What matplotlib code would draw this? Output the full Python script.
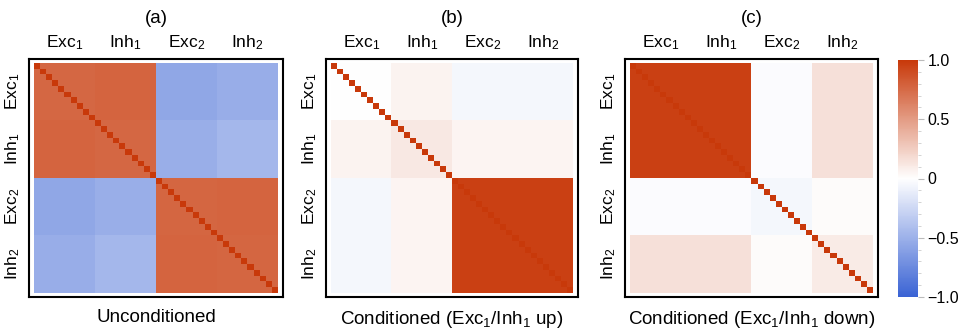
import numpy as np
import matplotlib
matplotlib.use("Agg")
import matplotlib.pyplot as plt
from matplotlib.colors import LinearSegmentedColormap
from matplotlib.ticker import FixedLocator, FixedFormatter

plt.rcParams['font.family'] = ['Liberation Sans', 'DejaVu Sans']
plt.rcParams['mathtext.fontset'] = 'custom'
plt.rcParams['mathtext.rm'] = 'Liberation Sans'
plt.rcParams['mathtext.it'] = 'Liberation Sans'

# ---- data ----
groups = [r'Exc$\mathregular{_1}$', r'Inh$\mathregular{_1}$',
          r'Exc$\mathregular{_2}$', r'Inh$\mathregular{_2}$']
n_per_group = 10
panel_titles = ['(a)', '(b)', '(c)']
panel_xlabels = ['Unconditioned',
                 r'Conditioned (Exc$\mathregular{_1}$/Inh$\mathregular{_1}$ up)',
                 r'Conditioned (Exc$\mathregular{_1}$/Inh$\mathregular{_1}$ down)']
block_a = [[0.76, 0.78, -0.56, -0.52],
           [0.78, 0.76, -0.51, -0.46],
           [-0.56, -0.51, 0.77, 0.78],
           [-0.52, -0.46, 0.78, 0.77]]
block_b = [[0.00, 0.06, -0.05, -0.05],
           [0.06, 0.11, 0.05, 0.05],
           [-0.05, 0.05, 0.96, 0.96],
           [-0.05, 0.05, 0.96, 0.96]]
block_c = [[0.96, 0.96, -0.02, 0.15],
           [0.96, 0.96, -0.02, 0.15],
           [-0.02, -0.02, -0.05, 0.02],
           [0.15, 0.15, 0.02, 0.10]]
diag_value = 1.0
cbar_ticks = [-1.0, -0.5, 0.0, 0.5, 1.0]
cbar_ticklabels = ['\u22121.0', '\u22120.5', '0', '0.5', '1.0']

cmap = LinearSegmentedColormap.from_list(
    'corr', [(0.0, '#3a63d4'), (0.5, '#ffffff'), (1.0, '#c8390a')])


def build(block):
    m = np.kron(np.array(block), np.ones((n_per_group, n_per_group)))
    np.fill_diagonal(m, diag_value)
    return m


mats = [build(block_a), build(block_b), build(block_c)]

W, H = 961, 330
fig = plt.figure(figsize=(W / 100, H / 100), dpi=100)

frames = [(29, 283), (326, 578), (625, 878)]
top_px, bot_px = 59, 297
N = n_per_group * len(groups)
centers = [n_per_group * i + (n_per_group - 1) / 2 for i in range(len(groups))]

for k, (x0, x1) in enumerate(frames):
    ax = fig.add_axes([x0 / W, (H - bot_px) / H, (x1 - x0) / W, (bot_px - top_px) / H])
    ax.imshow(mats[k], cmap=cmap, vmin=-1, vmax=1, aspect='auto',
              interpolation='nearest')
    padx = 5 / ((x1 - x0 - 10) / N)
    pady = 4 / ((bot_px - top_px - 8) / N)
    ax.set_xlim(-0.5 - padx, N - 0.5 + padx)
    ax.set_ylim(N - 0.5 + pady, -0.5 - pady)
    ax.xaxis.tick_top()
    ax.set_xticks(centers)
    ax.set_xticklabels(groups, fontsize=12.5)
    ax.set_yticks(centers)
    ax.set_yticklabels(groups, fontsize=12.5, rotation=90, va='center')
    ax.tick_params(axis='x', length=0, pad=5)
    ax.tick_params(axis='y', length=0, pad=5)
    for s in ax.spines.values():
        s.set_linewidth(1.5)
        s.set_color('black')
    ax.set_title(panel_titles[k], fontsize=13.5, pad=26)
    ax.set_xlabel(panel_xlabels[k], fontsize=13.5, labelpad=9)

cax = fig.add_axes([898 / W, (H - 297) / H, 20 / W, (297 - 60) / H])
sm = matplotlib.cm.ScalarMappable(cmap=cmap, norm=plt.Normalize(-1, 1))
cb = fig.colorbar(sm, cax=cax)
cb.outline.set_visible(False)
cax.yaxis.set_major_locator(FixedLocator(cbar_ticks))
cax.yaxis.set_major_formatter(FixedFormatter(cbar_ticklabels))
cax.yaxis.set_minor_locator(FixedLocator(np.arange(-1.0, 1.01, 0.1)))
cax.tick_params(which='major', length=4, color='#bbbbbb', labelsize=11.5, pad=3)
cax.tick_params(which='minor', length=2, color='#cccccc')

fig.savefig('out.png', dpi=100)
